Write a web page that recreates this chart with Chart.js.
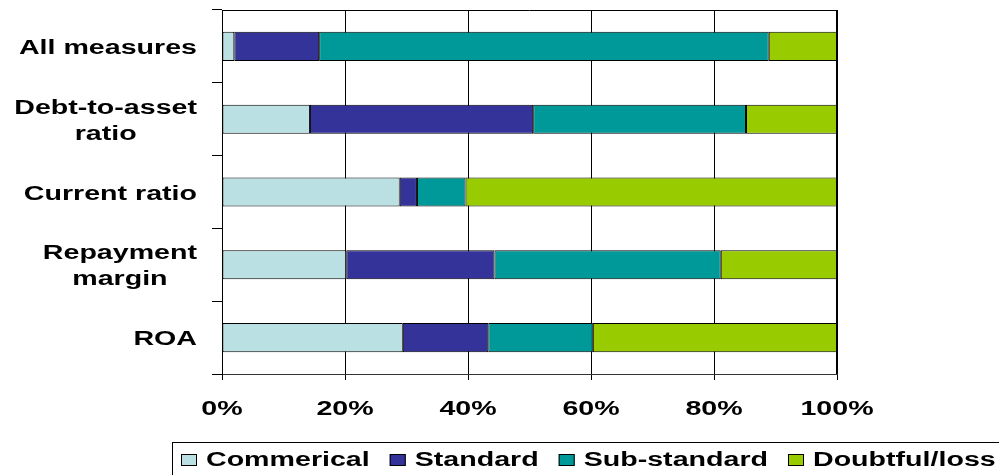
<!DOCTYPE html>
<html>
<head>
<meta charset="utf-8">
<script src="https://cdn.jsdelivr.net/npm/chart.js@4/dist/chart.umd.min.js"></script>
<style>
  html, body { margin: 0; padding: 0; background: #fff; }
  #wrap { width: 999px; height: 475px; position: relative; }
</style>
</head>
<body>
<div id="wrap"><canvas id="c" width="999" height="475"></canvas></div>
<script>
// ---- data ----
const categories = [['All measures'], ['Debt-to-asset', 'ratio'], ['Current ratio'], ['Repayment', 'margin'], ['ROA']];
const commercial  = [2.0, 14.3, 28.9, 20.2, 29.4];
const standard    = [13.8, 36.3, 2.8, 24.1, 13.9];
const subStandard = [73.1, 34.6, 7.9, 36.8, 17.0];
const doubtful    = [11.1, 14.8, 60.4, 18.9, 39.7];
const seriesNames = ['Commerical', 'Standard', 'Sub-standard', 'Doubtful/loss'];
const xTickValues = [0, 20, 40, 60, 80, 100];
const xTickLabels = ['0%', '20%', '40%', '60%', '80%', '100%'];

const colors = ['#BBE0E3', '#333399', '#009999', '#99CC00'];
const FONT = 'bold 20px "Liberation Sans", Arial, sans-serif';
const STRETCH = 1.43;

function drawStretched(ctx, text, x, y, align) {
  ctx.save();
  ctx.translate(x, y);
  ctx.scale(STRETCH, 1);
  ctx.textAlign = align;
  ctx.textBaseline = 'middle';
  ctx.fillText(text, 0, 0);
  ctx.restore();
}

const customPlugin = {
  id: 'custom',
  afterDraw(chart) {
    const ctx = chart.ctx;
    const ca = chart.chartArea;
    const xs = chart.scales.x, ys = chart.scales.y;
    ctx.save();
    // top & right frame
    ctx.strokeStyle = '#000';
    ctx.lineWidth = 1;
    ctx.beginPath();
    ctx.moveTo(ca.left, ca.top + 0.5);
    ctx.lineTo(ca.right, ca.top + 0.5);
    ctx.stroke();
    ctx.lineWidth = 2;
    ctx.beginPath();
    ctx.moveTo(ca.right, ca.top);
    ctx.lineTo(ca.right, ca.bottom);
    ctx.stroke();

    ctx.fillStyle = '#000';
    ctx.font = FONT;
    // y labels
    const labelRight = 197;
    categories.forEach((lines, i) => {
      const cy = ys.getPixelForValue(i) + 2;
      if (lines.length === 1) {
        drawStretched(ctx, lines[0], labelRight, cy, 'right');
      } else {
        const w = Math.max(...lines.map(l => ctx.measureText(l).width)) * STRETCH;
        const cx = labelRight - w / 2;
        const lh = 26;
        const y0 = cy - lh * (lines.length - 1) / 2;
        lines.forEach((l, k) => drawStretched(ctx, l, cx, y0 + k * lh, 'center'));
      }
    });
    // x labels
    xTickValues.forEach((v, i) => {
      drawStretched(ctx, xTickLabels[i], xs.getPixelForValue(v), 409, 'center');
    });

    // legend
    ctx.lineWidth = 1;
    ctx.strokeStyle = '#000';
    ctx.strokeRect(172.5, 442.5, 900, 60);
    let x = 181;
    const ly = 460;
    chart.data.datasets.forEach((ds, i) => {
      ctx.fillStyle = ds.backgroundColor;
      ctx.fillRect(x, ly - 6, 16, 12);
      ctx.strokeRect(x + 0.5, ly - 5.5, 15, 11);
      ctx.fillStyle = '#000';
      const tx = x + 25;
      drawStretched(ctx, ds.label, tx, ly, 'left');
      x = tx + ctx.measureText(ds.label).width * STRETCH + 20;
    });
    ctx.restore();
  }
};

const allSeries = [commercial, standard, subStandard, doubtful];

new Chart(document.getElementById('c'), {
  type: 'bar',
  data: {
    labels: categories.map(l => l.join(' ')),
    datasets: allSeries.map((d, i) => ({
      label: seriesNames[i],
      data: d,
      backgroundColor: colors[i],
      borderColor: '#000',
      borderWidth: 1,
      borderSkipped: false,
      categoryPercentage: 0.8,
      barPercentage: 0.5
    }))
  },
  options: {
    indexAxis: 'y',
    responsive: false,
    animation: false,
    devicePixelRatio: 1,
    layout: { padding: { left: 0, top: 10, right: 162, bottom: 0 } },
    plugins: {
      legend: { display: false },
      tooltip: { enabled: false }
    },
    scales: {
      x: {
        stacked: true,
        min: 0,
        max: 100,
        ticks: { display: false, stepSize: 20 },
        grid: { color: '#000', lineWidth: 1, tickLength: 6, drawTicks: true },
        border: { color: '#333', width: 1 },
        afterFit(s) { s.height = 101; }
      },
      y: {
        stacked: true,
        offset: true,
        ticks: { display: false },
        grid: { drawOnChartArea: false, drawTicks: true, tickLength: 10, color: '#000', offset: true },
        border: { color: '#000', width: 1 },
        afterFit(s) { s.width = 222; }
      }
    }
  },
  plugins: [customPlugin]
});
</script>
</body>
</html>
